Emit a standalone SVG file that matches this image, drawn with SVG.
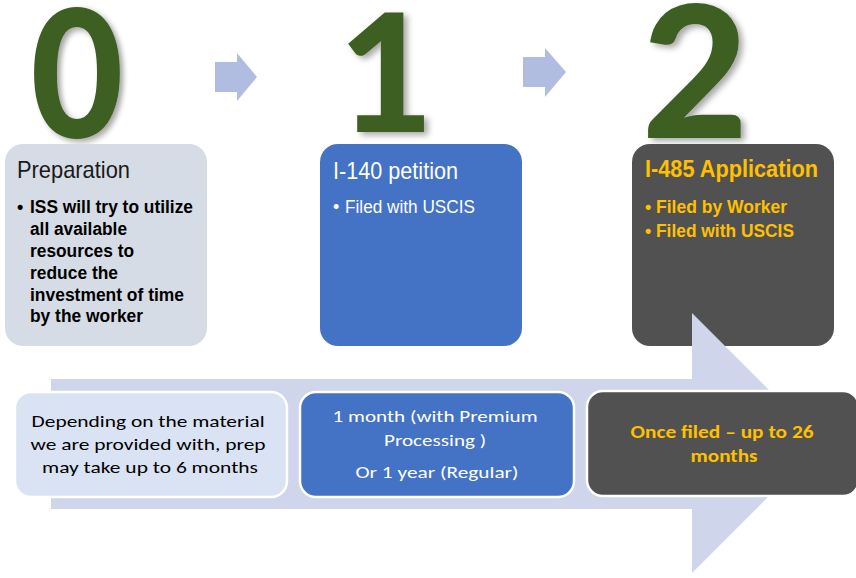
<svg xmlns="http://www.w3.org/2000/svg" width="856" height="578" viewBox="0 0 856 578">
<defs>
<filter id="sh" x="-20%" y="-20%" width="150%" height="150%">
<feDropShadow dx="4" dy="3" stdDeviation="3" flood-color="#000" flood-opacity="0.35"/>
</filter>
<style>
.dig{font-family:Lato,"DejaVu Sans",sans-serif;font-weight:900;fill:#3d5e22;filter:url(#sh);text-anchor:middle}
.ttl{font-family:"Liberation Sans",Arial,sans-serif;font-size:24px}
.bul{font-family:"Liberation Sans",Arial,sans-serif;font-size:18px}
.b{font-weight:bold}
.cal{font-family:Carlito,Calibri,"Open Sans",sans-serif;font-size:17px;text-anchor:middle}
.sm{fill:#b0bde0}
.bot{stroke:#fff;stroke-width:2.5}
</style>
</defs>
<rect width="856" height="578" fill="#fff"/>

<g id="digit-0"><text class="dig" x="77" y="138" font-size="178" transform="translate(77 0) scale(0.9 1) translate(-77 0)">0</text></g>
<g id="digit-1"><text class="dig" x="386" y="132" font-size="164">1</text></g>
<g id="digit-2"><text class="dig" x="695" y="138" font-size="184">2</text></g>

<g id="connectors">
<polygon class="sm" points="215,62 237,62 237,53 257,77 237,101 237,92 215,92"/>
<polygon class="sm" points="523,57 545,57 545,48 566,72 545,97 545,87 523,87"/>
</g>

<g id="preparation">
<rect x="5" y="144" width="202" height="202" rx="18" fill="#d6dce5"/>
<text class="ttl" x="17" y="178" fill="#1a1a1a" textLength="113" lengthAdjust="spacingAndGlyphs">Preparation</text>
<g class="bul b" fill="#000">
<text x="17" y="213">•</text>
<text x="30" y="213" textLength="163" lengthAdjust="spacingAndGlyphs">ISS will try to utilize</text>
<text x="30" y="235" textLength="97" lengthAdjust="spacingAndGlyphs">all available</text>
<text x="30" y="257" textLength="104" lengthAdjust="spacingAndGlyphs">resources to</text>
<text x="30" y="279" textLength="88" lengthAdjust="spacingAndGlyphs">reduce the</text>
<text x="30" y="301" textLength="154" lengthAdjust="spacingAndGlyphs">investment of time</text>
<text x="30" y="322" textLength="113" lengthAdjust="spacingAndGlyphs">by the worker</text>
</g>
</g>

<g id="i140">
<rect x="320" y="144" width="202" height="202" rx="18" fill="#4472c4"/>
<text class="ttl" x="333" y="179" fill="#fff" textLength="125" lengthAdjust="spacingAndGlyphs">I-140 petition</text>
<text class="bul" x="333" y="213" fill="#fff">•</text>
<text class="bul" x="345" y="213" fill="#fff" textLength="130" lengthAdjust="spacingAndGlyphs">Filed with USCIS</text>
</g>

<g id="i485">
<rect x="632" y="144" width="202" height="202" rx="18" fill="#515151"/>
<text class="ttl b" x="645" y="177" fill="#ffc000" textLength="173" lengthAdjust="spacingAndGlyphs">I-485 Application</text>
<text class="bul b" x="645" y="213" fill="#ffc000">•</text>
<text class="bul b" x="656" y="213" fill="#ffc000" textLength="131" lengthAdjust="spacingAndGlyphs">Filed by Worker</text>
<text class="bul b" x="645" y="237" fill="#ffc000">•</text>
<text class="bul b" x="656" y="237" fill="#ffc000" textLength="138" lengthAdjust="spacingAndGlyphs">Filed with USCIS</text>
</g>

<g id="timeline-arrow">
<polygon points="51,379 692,379 692,313 822,443 692,573 692,509 51,509" fill="#cfd5ea"/>
</g>

<g id="prep-time">
<rect class="bot" x="15" y="392" width="272" height="105" rx="16" fill="#dae3f3"/>
<text class="cal" fill="#000">
<tspan x="150" y="427" textLength="233" lengthAdjust="spacingAndGlyphs">Depending on the material</tspan>
<tspan x="150" y="450" textLength="235" lengthAdjust="spacingAndGlyphs">we are provided with, prep</tspan>
<tspan x="150" y="473" textLength="216" lengthAdjust="spacingAndGlyphs">may take up to 6 months</tspan>
</text>
</g>

<g id="i140-time">
<rect class="bot" x="300" y="392" width="274" height="105" rx="16" fill="#4472c4"/>
<text class="cal" fill="#fff">
<tspan x="437" y="422" textLength="205" lengthAdjust="spacingAndGlyphs">1 month (with Premium</tspan>
<tspan x="437" y="446" textLength="102" lengthAdjust="spacingAndGlyphs">Processing )</tspan>
<tspan x="437" y="478" textLength="163" lengthAdjust="spacingAndGlyphs">Or 1 year (Regular)</tspan>
</text>
</g>

<g id="i485-time">
<rect class="bot" x="587" y="391" width="272" height="105" rx="16" fill="#515151"/>
<text class="cal b" fill="#ffc000">
<tspan x="724" y="438" textLength="183" lengthAdjust="spacingAndGlyphs">Once filed – up to 26</tspan>
<tspan x="724" y="462" textLength="67" lengthAdjust="spacingAndGlyphs">months</tspan>
</text>
</g>
</svg>
